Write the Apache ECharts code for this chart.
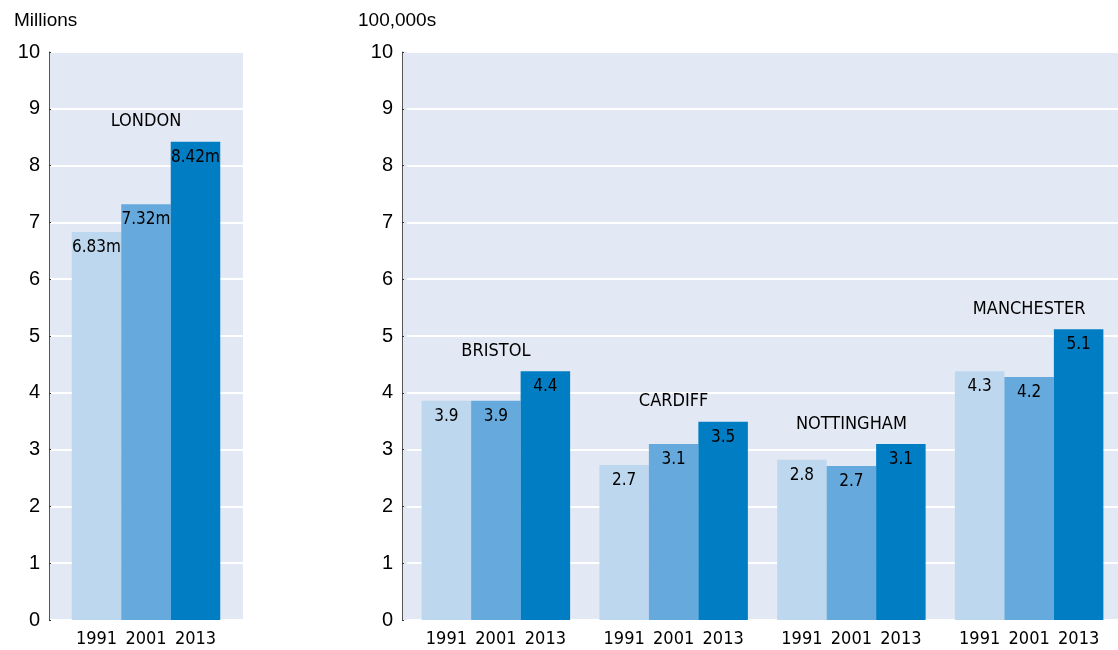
<!DOCTYPE html>
<html>
<head>
<meta charset="utf-8">
<script src="https://cdn.jsdelivr.net/npm/echarts@6/dist/echarts.min.js"></script>
<style>
html, body { margin: 0; padding: 0; background: #fff; }
#main { width: 1118px; height: 650px; }
</style>
</head>
<body>
<div id="main"></div>
<script>
// data
var years = ["1991", "2001", "2013"];
var bigCities = ["LONDON"];
var london = [6.83, 7.32, 8.42];
var londonLabels = ["6.83m", "7.32m", "8.42m"];

var cities = ["BRISTOL", "CARDIFF", "NOTTINGHAM", "MANCHESTER"];
var pop1991 = [3.86, 2.73, 2.82, 4.38];
var pop2001 = [3.86, 3.10, 2.71, 4.28];
var pop2013 = [4.38, 3.49, 3.10, 5.12];
var labels1991 = ["3.9", "2.7", "2.8", "4.3"];
var labels2001 = ["3.9", "3.1", "2.7", "4.2"];
var labels2013 = ["4.4", "3.5", "3.1", "5.1"];

var colors = ["#bdd7ee", "#66aadd", "#007dc3"];
var bg = "#e3e9f4";
var narrow = '"Liberation Sans Narrow", "DejaVu Sans Condensed", "Liberation Sans", sans-serif';
var regular = '"Liberation Sans", "DejaVu Sans", sans-serif';

var myChart = echarts.init(document.getElementById("main"));

function yAxisCfg(gridIndex, offset) {
  return {
    type: "value",
    gridIndex: gridIndex,
    min: 0,
    max: 10,
    interval: 1,
    offset: offset,
    axisLine: { show: true, lineStyle: { color: "#555", width: 1 } },
    axisTick: { show: true, inside: true, length: 2, lineStyle: { color: "#333" } },
    axisLabel: { color: "#000", fontSize: 20, fontFamily: regular, margin: 9 },
    splitLine: { show: true, lineStyle: { color: "#fff", width: 2 } }
  };
}

function xAxisCfg(gridIndex, data) {
  return {
    type: "category",
    gridIndex: gridIndex,
    data: data,
    axisLine: { show: false },
    axisTick: { show: false },
    axisLabel: {
      margin: 9,
      formatter: function () {
        return years.map(function (y) { return "{y|" + y + "}"; }).join("");
      },
      rich: {
        y: { width: 49.5, align: "center", fontSize: 18, fontFamily: narrow, color: "#000", lineHeight: 20 }
      }
    }
  };
}

var series = [];
// left chart: one bar per year
years.forEach(function (yr, i) {
  series.push({
    name: yr,
    type: "bar",
    xAxisIndex: 0,
    yAxisIndex: 0,
    barWidth: 49.5,
    barGap: "0%",
    itemStyle: { color: colors[i] },
    label: {
      show: true,
      position: "insideTop",
      distance: 7,
      color: "#000",
      fontSize: 17,
      fontFamily: narrow,
      formatter: function () { return londonLabels[i]; }
    },
    data: [london[i]]
  });
});

// right chart
var rightVals = [pop1991, pop2001, pop2013];
var rightLabels = [labels1991, labels2001, labels2013];
years.forEach(function (yr, i) {
  series.push({
    name: yr,
    type: "bar",
    xAxisIndex: 1,
    yAxisIndex: 1,
    barWidth: 49.5,
    barGap: "0%",
    itemStyle: { color: colors[i] },
    label: {
      show: true,
      position: "insideTop",
      distance: 7,
      color: "#000",
      fontSize: 17,
      fontFamily: narrow,
      formatter: function (p) { return rightLabels[i][p.dataIndex]; }
    },
    data: rightVals[i]
  });
});

// city names above the tallest bar of each group
function nameSeries(xi, names, groups) {
  return {
    type: "scatter",
    xAxisIndex: xi,
    yAxisIndex: xi,
    symbolSize: 0,
    itemStyle: { color: "#000", opacity: 1 },
    silent: true,
    label: {
      show: true,
      position: "top",
      distance: 11,
      color: "#000",
      opacity: 1,
      fontSize: 18,
      fontFamily: narrow,
      formatter: function (p) { return names[p.dataIndex]; }
    },
    data: names.map(function (n, k) {
      return Math.max.apply(null, groups.map(function (g) { return g[k]; }));
    })
  };
}
series.push(nameSeries(0, bigCities, london.map(function (v) { return [v]; })));
series.push(nameSeries(1, cities, rightVals));

myChart.setOption({
  animation: false,
  title: [
    { text: "Millions", left: 9, top: 6, textStyle: { fontSize: 19, fontWeight: "normal", color: "#000", fontFamily: regular } },
    { text: "100,000s", left: 353, top: 6, textStyle: { fontSize: 19, fontWeight: "normal", color: "#000", fontFamily: regular } }
  ],
  graphic: [
    { type: "rect", z: -1, shape: { x: 402, y: 52, width: 6, height: 568 }, style: { fill: bg } }
  ],
  grid: [
    { left: 49, top: 52, width: 194, height: 568, show: true, backgroundColor: bg, borderWidth: 0 },
    { left: 407, top: 52, width: 714, height: 568, show: true, backgroundColor: bg, borderWidth: 0 }
  ],
  xAxis: [xAxisCfg(0, bigCities), xAxisCfg(1, cities)],
  yAxis: [yAxisCfg(0, 0), yAxisCfg(1, 5)],
  series: series
});
</script>
</body>
</html>
